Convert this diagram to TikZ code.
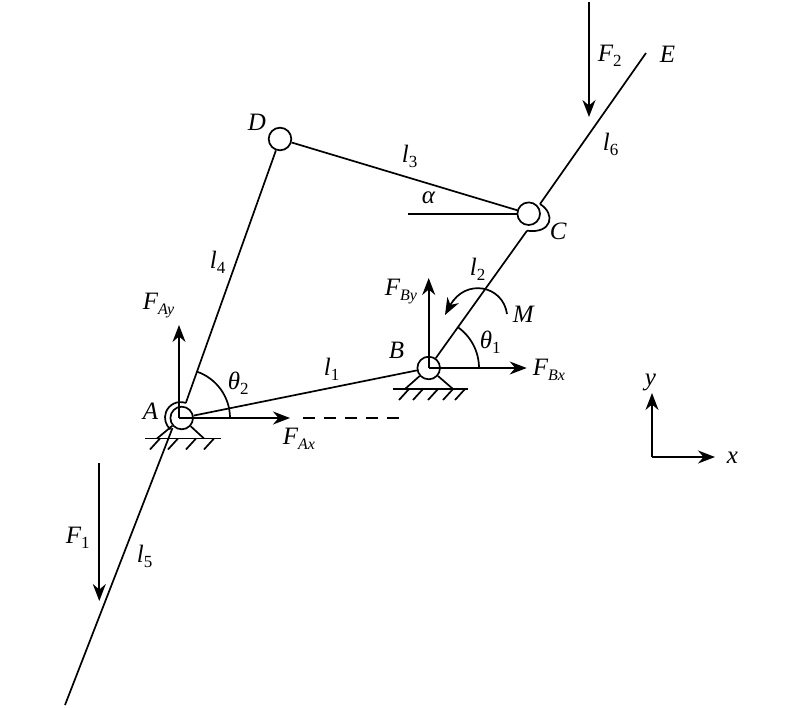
\documentclass[tikz,border=0pt]{standalone}
\usepackage{fontspec}
\setmainfont{Liberation Serif}
\usetikzlibrary{arrows.meta}
\newcommand{\lsub}[1]{\raisebox{-5pt}{\fontsize{16}{16}\selectfont #1}}
\newcommand{\nsub}[1]{\raisebox{-5pt}{\fontsize{17}{17}\selectfont\upshape #1}}
\begin{document}
\begin{tikzpicture}
    [x=1pt,y=-1pt,line width=1.7pt,
    pivot/.style={circle,draw,minimum size=22.6pt,inner sep=0pt},
    force/.style={-{Stealth[length=17pt,width=13pt]}},
    lab/.style={inner sep=0pt,anchor=base west,font=\fontsize{25}{25}\selectfont\itshape}]
    \useasboundingbox (0,0) rectangle (800,707);
    % joints
    \node[pivot] (A) at (181.7,418) {};
    \node[pivot] (B) at (428.7,368) {};
    \node[pivot] (C) at (528.7,213.7) {};
    \node[pivot] (D) at (280,139) {};
    \coordinate (Ao) at (179,418);
    \coordinate (Atop) at (185.8,403);
    \coordinate (Abot) at (172.5,428);
    \coordinate (End5) at (65,705);
    \coordinate (Clow) at (527,230.7);
    \coordinate (Cup) at (540,204);
    \coordinate (E) at (646,53);
    \coordinate (Aleft) at (408,213.7);
    % links
    \draw (A) -- (B);
    \draw (B) -- (Clow);
    \draw (Cup) -- (E);
    \draw (C) -- (D);
    \draw (Atop) -- (D);
    \draw (Abot) -- (End5);
    \draw (Aleft) -- (C);
    \draw (Cup) .. controls (556,214) and (552,234) .. (Clow);
    \draw (Atop) arc[start angle=70,end angle=230,radius=15.5pt];
    % supports
    \coordinate (Agl) at (157,438.5);
    \coordinate (Agr) at (204,438.5);
    \coordinate (Bgl) at (405,389);
    \coordinate (Bgr) at (453,389);
    \draw (A) -- (Agl);
    \draw (A) -- (Agr);
    \draw (B) -- (Bgl);
    \draw (B) -- (Bgr);
    \draw (145,438.5) -- (221,438.5);
    \draw (393,389) -- (468,389);
    \foreach \hx in {160,178,196,214} {
      \draw (\hx,438.5) -- ++(-10,11);
    }
    \foreach \hx in {409,423,438,453,465} {
      \draw (\hx,389) -- ++(-10,11);
    }
    % forces
    \draw[force] (Ao) -- (179,325);
    \draw[force] (Ao) -- (290,418);
    \draw[dash pattern=on 12pt off 9pt] (303,418) -- (399,418);
    \draw[force] (B.center) -- (428.7,278);
    \draw[force] (B.center) -- (526.7,368);
    \draw[force] (99.3,463) -- (99.3,601);
    \draw[force] (589,2) -- (589,117);
    \draw[force] (507,314) .. controls (503,285) and (465,278) .. (445,315);
    % angles
    \draw (479,368) arc[start angle=0,end angle=55,radius=50pt];
    \draw (230,418) arc[start angle=0,end angle=71,radius=49pt];
    % axes
    \coordinate (O) at (652,457);
    \draw[force] (O) -- (652,393);
    \draw[force] (O) -- (715,457);
    % labels
    \node[lab] (lA) at (142,419) {A};
    \node[lab] (lB) at (388,358) {B};
    \node[lab] (lC) at (549,239) {C};
    \node[lab] (lD) at (247,130) {D};
    \node[lab] (lE) at (659,62) {E};
    \node[lab] (lM) at (512,322) {M};
    \node[lab] (lalpha) at (421,203) {α};
    \node[lab] (lt1) at (479,348) {θ\nsub{1}};
    \node[lab] (lt2) at (227,389) {θ\nsub{2}};
    \node[lab] (l1) at (323,375) {l\nsub{1}};
    \node[lab] (l2) at (469,275) {l\nsub{2}};
    \node[lab] (l3) at (401,162) {l\nsub{3}};
    \node[lab] (l4) at (209,268) {l\nsub{4}};
    \node[lab] (l5) at (136,562) {l\nsub{5}};
    \node[lab] (l6) at (602,150) {l\nsub{6}};
    \node[lab] (FAx) at (282,444) {F\lsub{Ax}};
    \node[lab] (FAy) at (142,309) {F\lsub{Ay}};
    \node[lab] (FBx) at (532,375) {F\lsub{Bx}};
    \node[lab] (FBy) at (384,295) {F\lsub{By}};
    \node[lab] (F1) at (65,543) {F\nsub{1}};
    \node[lab] (F2) at (597,61) {F\nsub{2}};
    \node[lab] (lx) at (726,463) {x};
    \node[lab] (ly) at (644,385) {y};
\end{tikzpicture}
\end{document}
